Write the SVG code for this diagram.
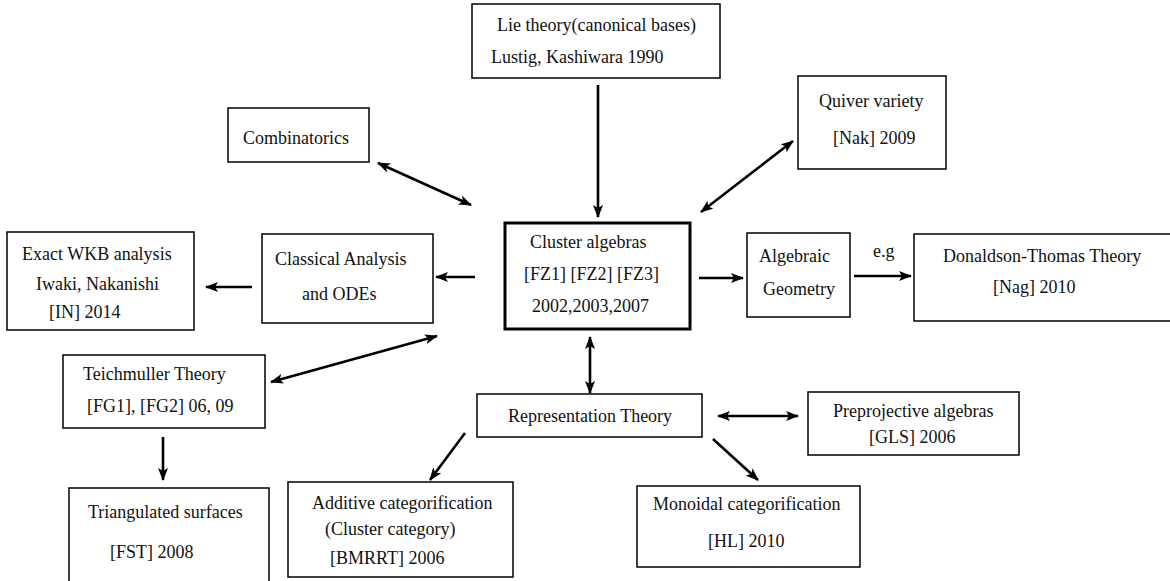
<svg xmlns="http://www.w3.org/2000/svg" width="1170" height="581" viewBox="0 0 1170 581">
<style>
.box{fill:#fff;stroke:#000;stroke-width:1.5}
.main{fill:#fff;stroke:#000;stroke-width:3}
text{font-family:"Liberation Serif","Times New Roman",serif;font-size:18px;fill:#111}
.c line{stroke:#000;stroke-width:2.6;fill:none}
.one{marker-end:url(#ah)}
.two{marker-end:url(#ah);marker-start:url(#ah)}
</style>
<defs>
<marker id="ah" viewBox="0 0 13 10" markerWidth="13" markerHeight="10" refX="12" refY="5" orient="auto-start-reverse" markerUnits="userSpaceOnUse">
<path d="M0,0 L13,5 L0,10 L3,5 z" fill="#000"/>
</marker>
</defs>
<rect width="1170" height="581" fill="#fff"/>

<g id="lie"><rect class="box" x="472" y="4" width="248" height="74"/>
<text x="497" y="31">Lie theory(canonical bases)</text>
<text x="491" y="63">Lustig, Kashiwara 1990</text></g>

<g id="combinatorics"><rect class="box" x="228" y="108" width="141" height="54"/>
<text x="243" y="144">Combinatorics</text></g>

<g id="quiver"><rect class="box" x="798" y="76" width="148" height="93"/>
<text x="819" y="107">Quiver variety</text>
<text x="833" y="144">[Nak] 2009</text></g>

<g id="cluster"><rect class="main" x="505" y="223" width="185" height="106"/>
<text x="530" y="248">Cluster algebras</text>
<text x="524" y="280">[FZ1] [FZ2] [FZ3]</text>
<text x="532" y="312">2002,2003,2007</text></g>

<g id="wkb"><rect class="box" x="7" y="232" width="187" height="98"/>
<text x="22" y="260">Exact WKB analysis</text>
<text x="36" y="290">Iwaki, Nakanishi</text>
<text x="49" y="318">[IN] 2014</text></g>

<g id="classical"><rect class="box" x="262" y="234" width="171" height="89"/>
<text x="275" y="265">Classical Analysis</text>
<text x="302" y="300">and ODEs</text></g>

<g id="algebraic"><rect class="box" x="747" y="233" width="103" height="84"/>
<text x="759" y="262">Algebraic</text>
<text x="763" y="295">Geometry</text></g>

<g id="dt"><rect class="box" x="914" y="234" width="270" height="87"/>
<text x="943" y="262">Donaldson-Thomas Theory</text>
<text x="993" y="293">[Nag] 2010</text></g>

<g id="teich"><rect class="box" x="63" y="355" width="202" height="73"/>
<text x="83" y="380">Teichmuller Theory</text>
<text x="87" y="412">[FG1], [FG2] 06, 09</text></g>

<g id="rep"><rect class="box" x="477" y="394" width="225" height="43"/>
<text x="508" y="422">Representation Theory</text></g>

<g id="preproj"><rect class="box" x="808" y="392" width="211" height="63"/>
<text x="833" y="417">Preprojective algebras</text>
<text x="869" y="443">[GLS] 2006</text></g>

<g id="triangulated"><rect class="box" x="69" y="488" width="200" height="100"/>
<text x="88" y="518">Triangulated surfaces</text>
<text x="110" y="558">[FST] 2008</text></g>

<g id="additive"><rect class="box" x="288" y="482" width="225" height="95"/>
<text x="312" y="509">Additive categorification</text>
<text x="325" y="535">(Cluster category)</text>
<text x="330" y="564">[BMRRT] 2006</text></g>

<g id="monoidal"><rect class="box" x="637" y="486" width="223" height="81"/>
<text x="653" y="510">Monoidal categorification</text>
<text x="708" y="547">[HL] 2010</text></g>

<g id="connectors" class="c">
<line class="one" x1="598" y1="85" x2="598" y2="217"/>
<line class="two" x1="378" y1="163" x2="471" y2="205"/>
<line class="two" x1="793" y1="141" x2="701" y2="212"/>
<line class="one" x1="475" y1="277" x2="436" y2="277"/>
<line class="one" x1="252" y1="287" x2="206" y2="287"/>
<line class="one" x1="699" y1="278" x2="743" y2="278"/>
<line class="one" x1="854" y1="276" x2="911" y2="276"/>
<line class="two" x1="271" y1="382" x2="437" y2="336"/>
<line class="two" x1="590" y1="337" x2="590" y2="393"/>
<line class="one" x1="163" y1="437" x2="163" y2="480"/>
<line class="one" x1="465" y1="433" x2="430" y2="480"/>
<line class="two" x1="718" y1="416" x2="798" y2="416"/>
<line class="one" x1="713" y1="439" x2="758" y2="480"/>
<text x="873" y="257">e.g</text>
</g>
</svg>
